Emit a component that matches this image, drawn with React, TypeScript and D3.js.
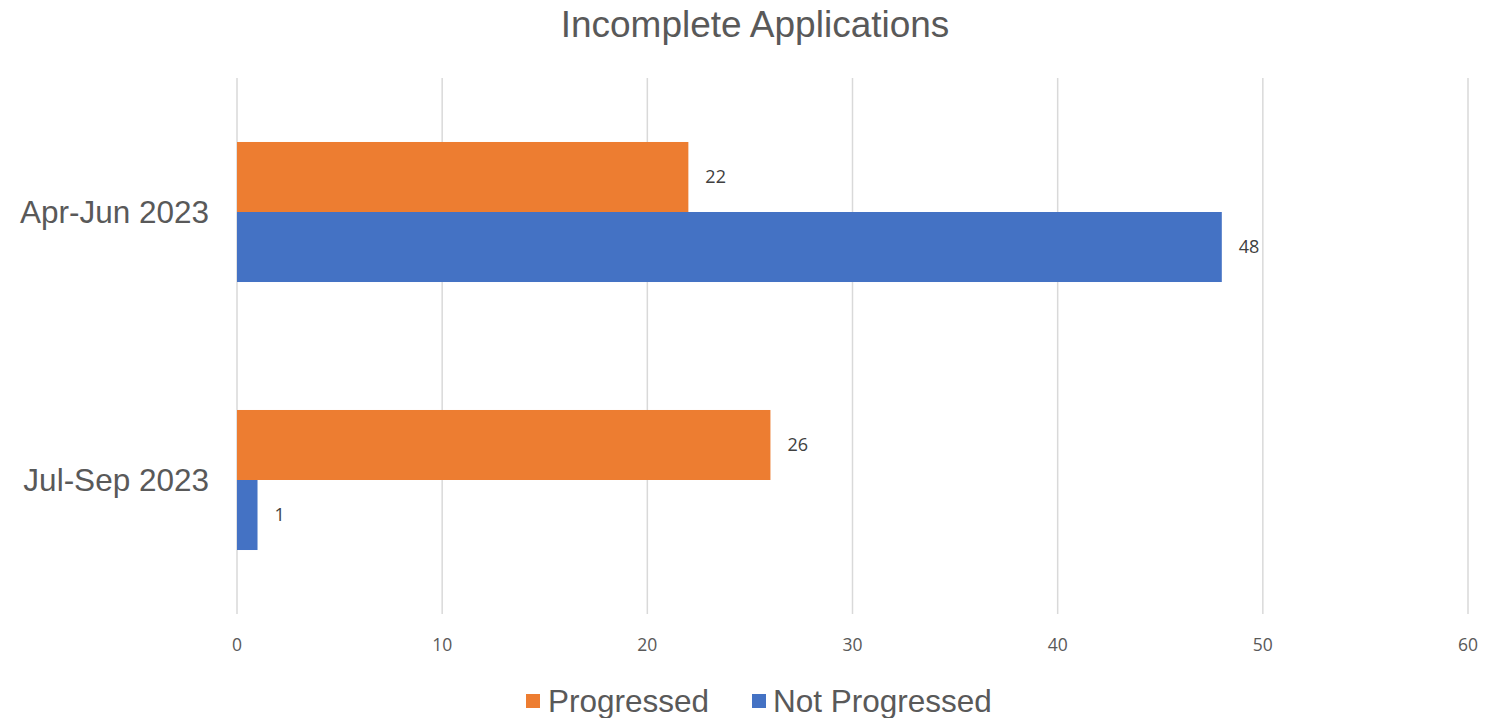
import * as d3 from 'd3';
import React from 'react';

const categories = ['Apr-Jun 2023', 'Jul-Sep 2023'];
const seriesNames = ['Progressed', 'Not Progressed'];
const progressed = [22, 26];
const notProgressed = [48, 1];
const xTicks = [0, 10, 20, 30, 40, 50, 60];
const colors = ['#ED7D31', '#4472C4'];

const W = 1494;
const H = 718;
const plot = { left: 237, right: 1468, top: 78, bottom: 614 };

const App: React.FC = () => {
  const x = d3.scaleLinear().domain([0, 60]).range([plot.left, plot.right]);
  const y = d3.scaleBand<string>().domain(categories).range([plot.top, plot.bottom]);
  const sub = d3.scaleBand<string>()
    .domain(seriesNames)
    .range([0, y.bandwidth()])
    .paddingInner(0)
    .paddingOuter(0.914);

  const values = [progressed, notProgressed];
  const labelFont = 'Liberation Sans, Arial, sans-serif';
  const numFont = '"Open Sans", "Noto Sans", sans-serif';

  return (
    <svg width={W} height={H} style={{ position: 'absolute', left: 0, top: 0, background: '#fff' }}>
      <text x={755} y={37} textAnchor="middle" fontFamily={labelFont} fontSize={37} fill="#595959">
        Incomplete Applications
      </text>

      {xTicks.map(t => (
        <g key={t}>
          <line x1={x(t)} x2={x(t)} y1={plot.top} y2={plot.bottom} stroke="#d9d9d9" strokeWidth={1.5} />
          <text x={x(t)} y={645} dy="0.35em" textAnchor="middle" fontFamily={numFont} fontSize={17.5} fill="#595959">
            {t}
          </text>
        </g>
      ))}

      {categories.map((c, ci) => (
        <g key={c}>
          <text
            x={plot.left - 28}
            y={(y(c) ?? 0) + y.bandwidth() / 2}
            dy="0.35em"
            textAnchor="end"
            fontFamily={labelFont}
            fontSize={31.5}
            fill="#595959"
          >
            {c}
          </text>
          {seriesNames.map((s, si) => {
            const v = values[si][ci];
            const by = (y(c) ?? 0) + (sub(s) ?? 0);
            return (
              <g key={s}>
                <rect x={x(0)} y={by} width={x(v) - x(0)} height={sub.bandwidth()} fill={colors[si]} />
                <text
                  x={x(v) + 17}
                  y={by + sub.bandwidth() / 2}
                  dy="0.35em"
                  fontFamily={numFont}
                  fontSize={18}
                  fill="#404040"
                >
                  {v}
                </text>
              </g>
            );
          })}
        </g>
      ))}

      <g fontFamily={labelFont} fontSize={31.5} fill="#595959">
        <rect x={526} y={694} width={14} height={14} fill={colors[0]} />
        <text x={548} y={701} dy="0.35em">{seriesNames[0]}</text>
        <rect x={752} y={694} width={14} height={14} fill={colors[1]} />
        <text x={773} y={701} dy="0.35em">{seriesNames[1]}</text>
      </g>
    </svg>
  );
};

export default App;
